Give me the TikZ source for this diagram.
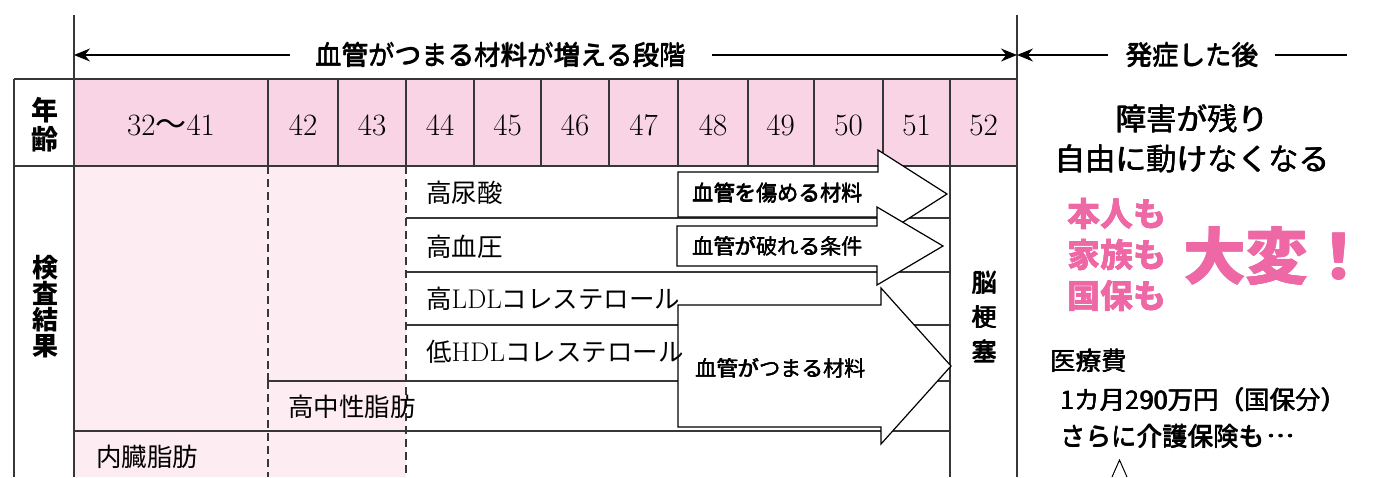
\documentclass[tikz,border=0pt]{standalone}
\usepackage{fontspec}
\newfontfamily\jp{Noto Sans CJK JP}
\usetikzlibrary{arrows.meta}
\definecolor{hdrpink}{RGB}{249,212,229}
\definecolor{lightpink}{RGB}{253,236,242}
\definecolor{hotpink}{RGB}{238,104,165}
\definecolor{linegray}{RGB}{55,55,55}
% thicken text by overprinting shifted copies
\newcommand\thk[1]{\leavevmode\rlap{\kern0.5pt\raise0.3pt\hbox{#1}}\rlap{\kern0.5pt\hbox{#1}}#1}
\newcommand\hvy[1]{\leavevmode\rlap{\kern1.2pt\raise0.8pt\hbox{#1}}\rlap{\kern1.2pt\hbox{#1}}\rlap{\raise0.8pt\hbox{#1}}#1}
\newcommand\midellip{\kern0.1em\raisebox{0.34em}{…}}
\tikzset{
  gridline/.style={draw=linegray, line width=1.3pt},
  dashline/.style={draw=linegray, line width=1.3pt, dash pattern=on 8pt off 5pt},
  blockarrow/.style={draw=black, fill=white, line width=1.2pt, line join=miter},
  dimarrow/.style={draw=black, line width=1.2pt, -{Stealth[length=16pt,width=13pt]}},
  rowlabel/.style={inner sep=0pt, anchor=west, font=\jp\fontsize{25.5}{25.5}\selectfont},
  agenum/.style={inner sep=0pt, anchor=base, font=\fontsize{31}{31}\selectfont},
  headlabel/.style={inner sep=0pt, align=center, font=\jp\bfseries\fontsize{27}{29}\selectfont},
  arrowlabel/.style={inner sep=0pt, anchor=west, font=\jp\fontsize{21.3}{21.3}\selectfont},
  toplabel/.style={inner sep=0pt, font=\jp\fontsize{26.5}{26.5}\selectfont},
  sidetext/.style={inner sep=0pt, font=\jp\fontsize{30.5}{40}\selectfont},
  pinktext/.style={inner sep=0pt, text=hotpink, font=\jp\bfseries\fontsize{33}{41}\selectfont},
  costtext/.style={inner sep=0pt, anchor=west, font=\jp\fontsize{25.5}{25.5}\selectfont}
}
\newcommand\ltn[1]{{\rmfamily\fontsize{27}{27}\selectfont #1}}
\begin{document}
\begin{tikzpicture}[x=1pt,y=-1pt]
\useasboundingbox (0,0) rectangle (1373,477);
% fills
\fill[hdrpink] (74,79) rectangle (1017,166);
\fill[lightpink] (74,166) rectangle (406,477);
% table frame
\draw[gridline] (14,79) -- (1017,79);
\draw[gridline] (14,166) -- (1017,166);
\draw[gridline] (14,79) -- (14,477);
\draw[gridline] (74,15) -- (74,477);
\draw[gridline] (1017,15) -- (1017,477);
% header column dividers
\foreach \cx in {268,338,406,474,541,609,678,748,814,883,950}
  \draw[gridline] (\cx,79) -- (\cx,166);
% body lines
\draw[gridline] (950,166) -- (950,477);
\draw[gridline] (406,218) -- (950,218);
\draw[gridline] (406,272) -- (950,272);
\draw[gridline] (406,325) -- (950,325);
\draw[gridline] (268,381) -- (950,381);
\draw[gridline] (268,373) -- (268,381);
\draw[gridline] (74,431) -- (950,431);
\draw[dashline] (268,166) -- (268,373);
\draw[dashline] (268,381) -- (268,477);
\draw[dashline] (406,166) -- (406,477);
% block arrows
\draw[blockarrow] (678,172) -- (878,172) -- (878,150) -- (947,194) -- (878,238) -- (878,217) -- (678,217) -- cycle;
\draw[blockarrow] (677,226) -- (877,226) -- (877,207) -- (943,246) -- (877,285) -- (877,266) -- (677,266) -- cycle;
\draw[blockarrow] (678,305) -- (881,305) -- (881,288) -- (951,366) -- (881,444) -- (881,427) -- (678,427) -- cycle;
% top dimension arrows
\coordinate (tl) at (74,55);
\coordinate (tr) at (1017,55);
\coordinate (rend) at (1347,55);
\node[toplabel] (title) at (500.5,55) {\thk{血管がつまる材料が増える段階}};
\node[toplabel] (after) at (1192,55) {\thk{発症した後}};
\draw[dimarrow] ([xshift=-25pt]title.west) -- (tl);
\draw[dimarrow] ([xshift=26pt]title.east) -- (tr);
\draw[dimarrow] ([xshift=-18pt]after.west) -- (tr);
\draw[draw=black, line width=1.2pt] ([xshift=17pt]after.east) -- (rend);
% header labels
\node[headlabel] (nenrei) at (45,125) {年\\齢};
\node[headlabel, font=\jp\bfseries\fontsize{26}{26}\selectfont] (kensa) at (45,307) {検\\査\\結\\果};
% ages
\node[agenum] (a1) at (171,135) {32{\jp 〜}41};
\node[agenum] (a42) at (303,135) {42};
\node[agenum] (a43) at (372,135) {43};
\node[agenum] (a44) at (440,135) {44};
\node[agenum] (a45) at (507.5,135) {45};
\node[agenum] (a46) at (575,135) {46};
\node[agenum] (a47) at (643.5,135) {47};
\node[agenum] (a48) at (713,135) {48};
\node[agenum] (a49) at (780.5,135) {49};
\node[agenum] (a50) at (848.5,135) {50};
\node[agenum] (a51) at (916.5,135) {51};
\node[agenum] (a52) at (983.5,135) {52};
% row labels
\node[rowlabel] (r1) at (426,193) {高尿酸};
\node[rowlabel] (r2) at (426,247) {高血圧};
\node[rowlabel] (r3) at (426,299) {高\ltn{LDL}コレステロール};
\node[rowlabel] (r4) at (426,352) {低\ltn{HDL}コレステロール};
\node[rowlabel] (r5) at (288,407) {高中性脂肪};
\node[rowlabel] (r6) at (96,457) {内臓脂肪};
% arrow labels
\node[arrowlabel] (l1) at (692,193) {\thk{血管を傷める材料}};
\node[arrowlabel] (l2) at (692,246) {\thk{血管が破れる条件}};
\node[arrowlabel] (l3) at (695,368) {\thk{血管がつまる材料}};
% stroke column
\node[inner sep=0pt, align=center, font=\jp\fontsize{25}{34.5}\selectfont] (nou) at (984,317) {\thk{脳}\\\thk{梗}\\\thk{塞}};
% right side
\node[sidetext, align=center] (shogai) at (1192,139) {\thk{障害が残り}\\\thk{自由に動けなくなる}};
\node[pinktext, align=left, anchor=west] (honnin) at (1067,255) {\thk{本人も}\\\thk{家族も}\\\thk{国保も}};
\node[inner sep=0pt, anchor=west, text=hotpink, font=\jp\bfseries\fontsize{62}{62}\selectfont] (taihen) at (1183,256) {\hvy{大変！}};
\node[costtext] (iryo) at (1050,361) {\thk{医療費}};
\node[costtext] (man) at (1060,400) {\thk{1カ月290万円（国保分）}};
\node[costtext, anchor=base west] (sarani) at (1060,446) {\thk{さらに介護保険も\midellip}};
\coordinate (cl) at (1112,477);
\coordinate (ct) at (1119.5,460);
\coordinate (cr) at (1127,477);
\draw[black, line width=1pt] (cl) -- (ct) -- (cr);
\end{tikzpicture}
\end{document}
